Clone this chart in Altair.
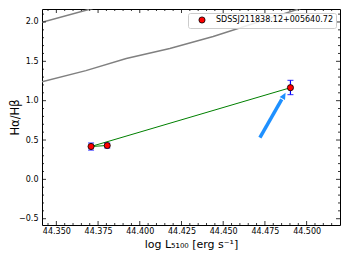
import altair as alt
import pandas as pd
import numpy as np

# ---------------- data ----------------
name = "SDSSJ211838.12+005640.72"
pt_x = [44.3708, 44.3805, 44.4903]
pt_y = [0.418, 0.430, 1.165]
pt_lo = [0.372, 0.398, 1.077]
pt_hi = [0.462, 0.460, 1.258]
path_order = [1, 0, 2]          # order in which the green line joins the points

g1_x = [44.3414, 44.3705, 44.4000]
g1_y = [1.996, 2.165, 2.336]
g2_x = [44.3414, 44.3677, 44.3919, 44.4180, 44.4440, 44.4970, 44.5200]
g2_y = [1.241, 1.382, 1.535, 1.663, 1.816, 2.177, 2.310]

arrow_x = [44.4720, 44.4874]    # tail, tip
arrow_y = [0.530, 1.101]

x_major = [44.350, 44.375, 44.400, 44.425, 44.450, 44.475, 44.500]
x_minor = [round(44.345 + 0.005 * i, 3) for i in range(36)]
y_major = [-0.5, 0.0, 0.5, 1.0, 1.5, 2.0]
y_minor = [round(-0.5 + 0.1 * i, 1) for i in range(27)]

x_dom = [44.3414, 44.5200]
y_dom = [-0.58, 2.165]

W, H = 298, 216
FONT = "DejaVu Sans"

xs = alt.Scale(domain=x_dom, nice=False, zero=False)
ys = alt.Scale(domain=y_dom, nice=False, zero=False)

x_axis = alt.Axis(values=x_major, format=".3f", ticks=False, domain=False, grid=False,
                  labelFont=FONT, labelFontSize=8, labelColor="black", labelPadding=2,
                  title="log L₅₁₀₀ [erg s⁻¹]", titleFont=FONT, titleFontSize=11,
                  titleFontWeight="normal", titleColor="black",
                  titleBaseline="alphabetic", titleX=W / 2, titleY=22)
y_axis = alt.Axis(values=y_major, format=".1f", ticks=False, domain=False, grid=False,
                  labelFont=FONT, labelFontSize=8, labelColor="black", labelPadding=4,
                  title="Hα/Hβ", titleFont=FONT, titleFontSize=11.5,
                  titleFontWeight="normal", titleColor="black",
                  titleBaseline="middle", titleX=-27, titleY=H / 2, titleAngle=270)

def X(f):
    return alt.X(f, scale=xs, axis=x_axis)

def Y(f):
    return alt.Y(f, scale=ys, axis=y_axis)

pts = pd.DataFrame({"x": pt_x, "y": pt_y, "lo": pt_lo, "hi": pt_hi,
                    "ord": path_order, "name": [name] * 3})
g1 = pd.DataFrame({"x": g1_x, "y": g1_y})
g2 = pd.DataFrame({"x": g2_x, "y": g2_y})

# arrow geometry in pixel space for the head angle
px_per_x = W / (x_dom[1] - x_dom[0])
px_per_y = H / (y_dom[1] - y_dom[0])
dxp = (arrow_x[1] - arrow_x[0]) * px_per_x
dyp = (arrow_y[1] - arrow_y[0]) * px_per_y
ang = float(np.degrees(np.arctan2(dxp, dyp)))
frac = 0.85
shaft = pd.DataFrame({"x": [arrow_x[0], arrow_x[0] + frac * (arrow_x[1] - arrow_x[0])],
                      "y": [arrow_y[0], arrow_y[0] + frac * (arrow_y[1] - arrow_y[0])]})
head = pd.DataFrame({"x": [arrow_x[1]], "y": [arrow_y[1]]})

gray1 = alt.Chart(g1).mark_line(color="#808080", strokeWidth=1.5, clip=True).encode(
    x=X("x:Q"), y=Y("y:Q"))
gray2 = alt.Chart(g2).mark_line(color="#808080", strokeWidth=1.5, clip=True).encode(
    x=X("x:Q"), y=Y("y:Q"))

green = alt.Chart(pts).mark_line(color="green", strokeWidth=1).encode(
    x=X("x:Q"), y=Y("y:Q"), order="ord:Q")

arrow_line = alt.Chart(shaft).mark_line(color="#1E90FF", strokeWidth=3.5, strokeCap="butt").encode(
    x=X("x:Q"), y=Y("y:Q"))
arrow_head = alt.Chart(head).mark_point(
    shape="M0,0 L0.8,1.7 L-0.8,1.7 Z", filled=True, color="#1E90FF",
    opacity=1, size=60, angle=ang).encode(x=X("x:Q"), y=Y("y:Q"))

err = alt.Chart(pts).mark_rule(color="blue", strokeWidth=1.2).encode(
    x=X("x:Q"), y=Y("lo:Q"), y2="hi:Q")
cap_lo = alt.Chart(pts).mark_tick(color="blue", orient="horizontal", size=6, thickness=1.2).encode(
    x=X("x:Q"), y=Y("lo:Q"))
cap_hi = alt.Chart(pts).mark_tick(color="blue", orient="horizontal", size=6, thickness=1.2).encode(
    x=X("x:Q"), y=Y("hi:Q"))

points = alt.Chart(pts).mark_point(filled=True, stroke="black", strokeWidth=0.8,
                                   size=38, opacity=1, shape="circle").encode(
    x=X("x:Q"), y=Y("y:Q"),
    fill=alt.Fill("name:N", scale=alt.Scale(range=["red"]),
                  legend=alt.Legend(title=None, orient="top-right", offset=4,
                                    fillColor="rgba(255,255,255,0.85)", strokeColor="#cccccc",
                                    cornerRadius=2, padding=3, labelFont=FONT, labelFontSize=8,
                                    labelColor="black", symbolType="circle", symbolSize=38,
                                    symbolStrokeColor="black", symbolStrokeWidth=0.8,
                                    symbolOffset=7, labelOffset=10)),
)

def xticks(vals, length, top):
    df = pd.DataFrame({"v": vals})
    if top:
        yy, yy2 = alt.value(0), alt.value(length)
    else:
        yy, yy2 = alt.value(H), alt.value(H - length)
    return alt.Chart(df).mark_rule(color="black", strokeWidth=0.8).encode(
        x=X("v:Q"), y=yy, y2=yy2)

def yticks(vals, length, right):
    df = pd.DataFrame({"v": vals})
    if right:
        xx, xx2 = alt.value(W), alt.value(W - length)
    else:
        xx, xx2 = alt.value(0), alt.value(length)
    return alt.Chart(df).mark_rule(color="black", strokeWidth=0.8).encode(
        y=Y("v:Q"), x=xx, x2=xx2)

x_min_only = [v for v in x_minor if all(abs(v - m) > 1e-6 for m in x_major) and x_dom[0] < v < x_dom[1]]
y_min_only = [v for v in y_minor if all(abs(v - m) > 1e-6 for m in y_major) and y_dom[0] < v < y_dom[1]]

tick_layers = [
    xticks(x_major, 4, False), xticks(x_major, 4, True),
    xticks(x_min_only, 2, False), xticks(x_min_only, 2, True),
    yticks(y_major, 4, False), yticks(y_major, 4, True),
    yticks(y_min_only, 2, False), yticks(y_min_only, 2, True),
]

chart = alt.layer(
    gray1, gray2, green, arrow_line, arrow_head, err, cap_lo, cap_hi, points, *tick_layers
).properties(
    width=W, height=H,
    autosize=alt.AutoSizeParams(type="none"),
    padding={"left": 34, "top": 1, "right": 1, "bottom": 25},
).configure_view(stroke="black", strokeWidth=1)

chart.save("out.html", embed_options={"renderer": "svg", "actions": False})
